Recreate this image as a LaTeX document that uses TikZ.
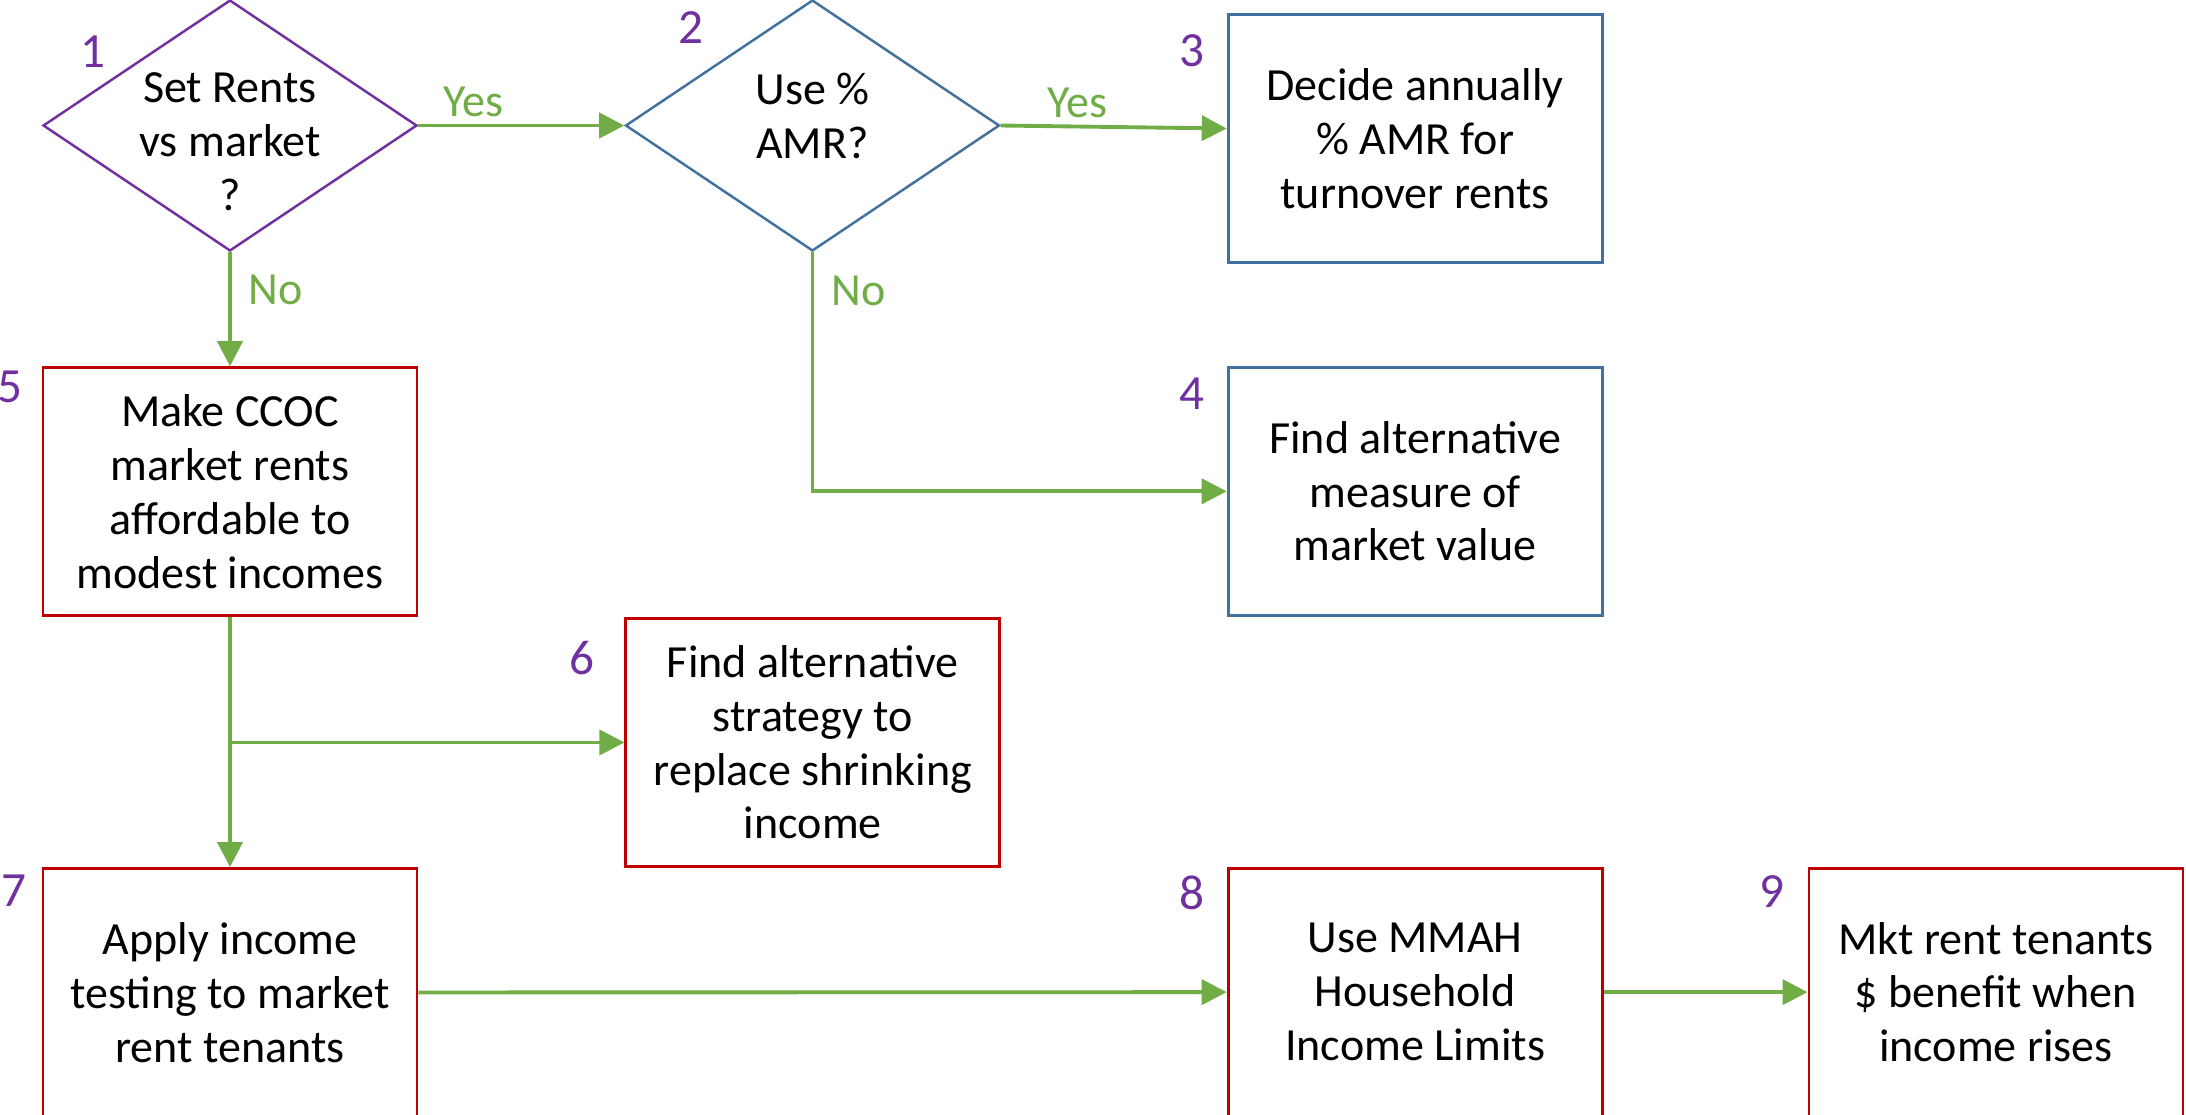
\documentclass[tikz,border=0pt]{standalone}
\usepackage{fontspec}
\setmainfont{Carlito}
\usetikzlibrary{shapes.geometric,arrows.meta,positioning}
\definecolor{qPurple}{RGB}{112,48,160}
\definecolor{qBlue}{RGB}{65,113,156}
\definecolor{stepRed}{RGB}{192,0,0}
\definecolor{flowGreen}{RGB}{112,173,71}

\begin{document}
\begin{tikzpicture}[
  font=\fontsize{13.1}{15.3}\selectfont,
  dec/.style={draw,diamond,minimum width=3.74cm,minimum height=2.51cm,inner sep=0pt,line width=0.7pt},
  qtext/.style={align=center,anchor=north,inner sep=0pt},
  box/.style={draw,minimum width=3.74cm,minimum height=2.48cm,align=center,line width=0.8pt},
  num/.style={text=qPurple,inner sep=0pt,font=\fontsize{14}{16}\selectfont},
  lbl/.style={text=flowGreen,inner sep=2pt},
  arrow/.style={-{Triangle[length=0.25cm,width=0.25cm]},flowGreen,line width=1.1pt}
]
\useasboundingbox (0,0) rectangle (21.86,-11.14);
% decisions
\node[dec,draw=qPurple] (q1) at (2.30,-1.255) {};
\node[qtext] (t1) at ([yshift=-0.735cm]q1.north) {Set Rents\\vs market\\?};
\node[dec,draw=qBlue,right=2.06cm of q1] (q2) {};
\node[qtext] (t2) at ([yshift=-0.735cm]q2.north) {Use \%\\AMR?};
% steps
\node[box,draw=qBlue,right=2.26cm of q2,yshift=-0.13cm] (b3) {Decide annually\\\% AMR for\\turnover rents};
\node[box,draw=qBlue,below=1.02cm of b3] (b4) {Find alternative\\measure of\\market value};
\node[box,draw=stepRed,below=1.14cm of q1] (b5) {Make CCOC\\market rents\\affordable to\\modest incomes};
\node[box,draw=stepRed,below right=0cm and 2.06cm of b5] (b6) {Find alternative\\strategy to\\replace shrinking\\income};
\node[box,draw=stepRed,below=2.50cm of b5] (b7) {Apply income\\testing to market\\rent tenants};
\node[box,draw=stepRed,below=2.50cm of b4] (b8) {Use MMAH\\Household\\Income Limits};
\node[box,draw=stepRed,right=2.04cm of b8] (b9) {Mkt rent tenants\\\$ benefit when\\income rises};
% numbers
\node[num] (n1) at (0.93,-0.52) {1};
\node[num] (n2) at (6.91,-0.28) {2};
\node[num] (n3) at ([xshift=-0.35cm,yshift=-0.38cm]b3.north west) {3};
\node[num] (n4) at ([xshift=-0.35cm,yshift=-0.28cm]b4.north west) {4};
\node[num] (n5) at ([xshift=-0.32cm,yshift=-0.21cm]b5.north west) {5};
\node[num] (n6) at ([xshift=-0.42cm,yshift=-0.41cm]b6.north west) {6};
\node[num] (n7) at ([xshift=-0.28cm,yshift=-0.24cm]b7.north west) {7};
\node[num] (n8) at ([xshift=-0.35cm,yshift=-0.26cm]b8.north west) {8};
\node[num] (n9) at ([xshift=-0.36cm,yshift=-0.25cm]b9.north west) {9};
% connectors
\coordinate (split) at (b5.south |- b6.west);
\draw[arrow] (q1.east) -- node[lbl,above,pos=0.27] {Yes} (q2.west);
\draw[arrow] (q2.east) -- node[lbl,above,pos=0.34] {Yes} ([yshift=0.1cm]b3.west);
\draw[arrow] (q1.south) -- node[lbl,right,pos=0.33,xshift=0.1cm] {No} (b5.north);
\draw[arrow] (q2.south) |- node[lbl,right,pos=0.08,xshift=0.1cm] {No} (b4.west);
\draw[arrow] (b5.south) -- (b7.north);
\draw[arrow] (split) -- (b6.west);
\draw[arrow] (b7.east) -- (b8.west);
\draw[arrow] (b8.east) -- (b9.west);
\end{tikzpicture}
\end{document}
